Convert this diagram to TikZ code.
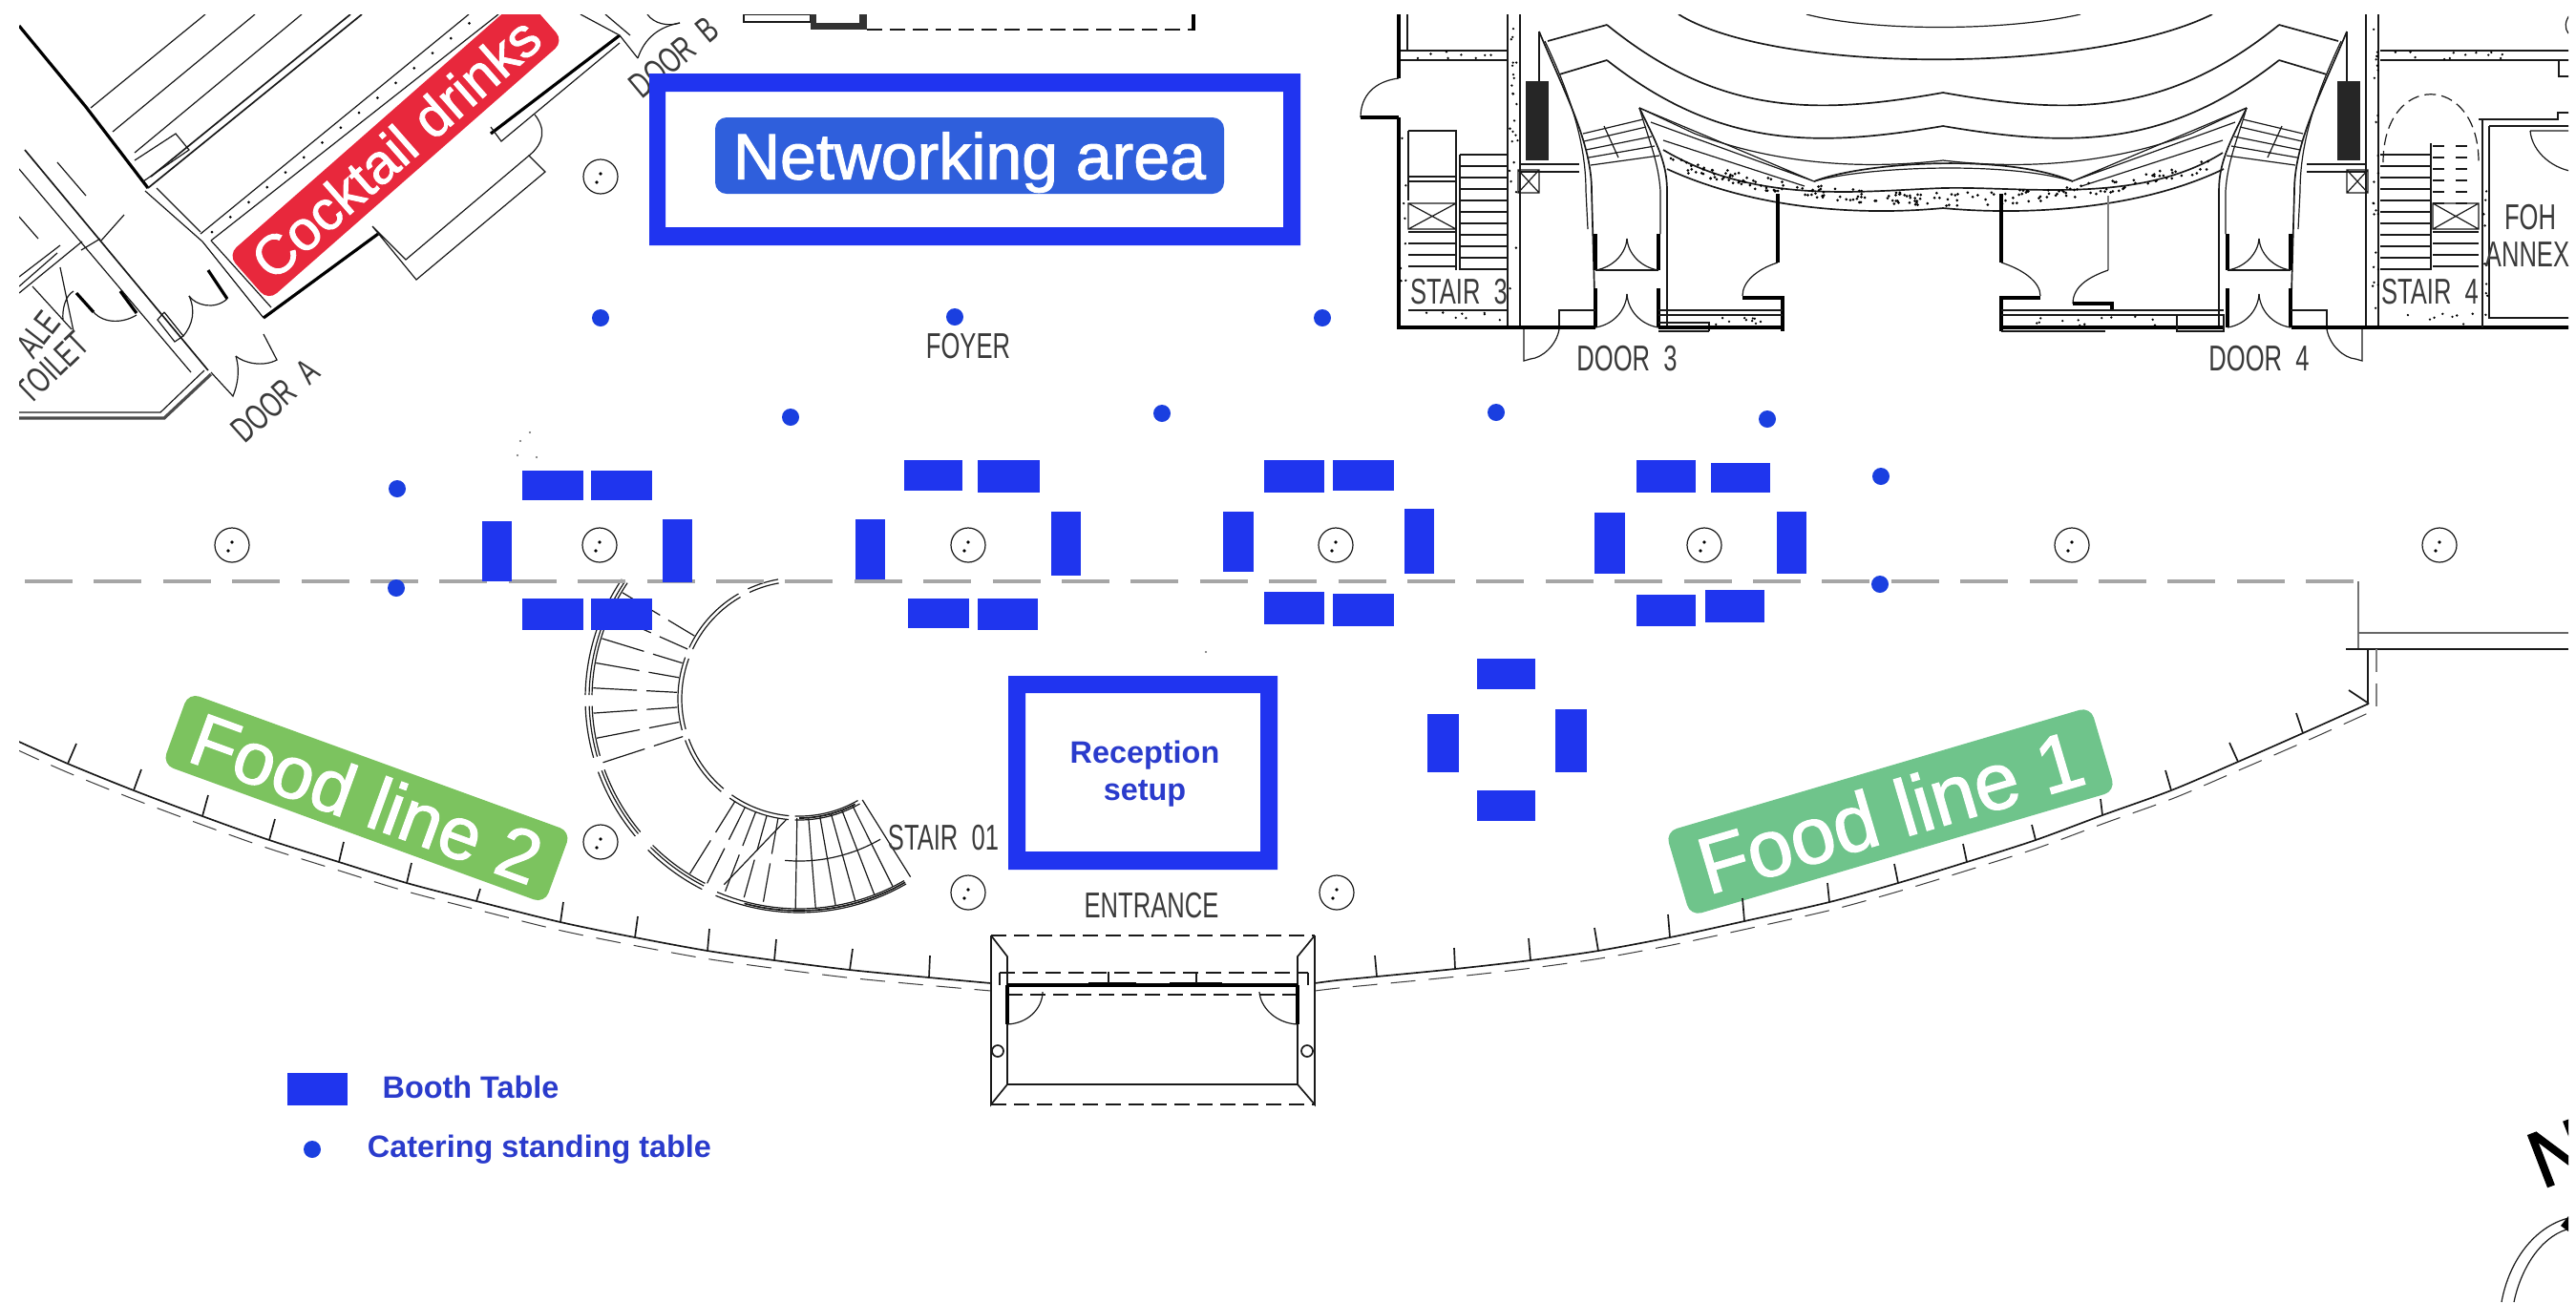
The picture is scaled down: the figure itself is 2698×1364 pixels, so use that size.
\documentclass[tikz,border=0pt]{standalone}
\usepackage{fontspec}
\setmainfont{Liberation Sans}
\newfontfamily\pillfont[FakeBold=1.6]{Liberation Sans}
\newfontfamily\legfont{Liberation Sans}
\newfontfamily\cadfont[FakeStretch=0.68]{Liberation Sans}
\definecolor{boothblue}{HTML}{1F35EE}
\definecolor{dotblue}{HTML}{1A3FE0}
\definecolor{framecol}{HTML}{2034F0}
\definecolor{netpill}{HTML}{2F5FDC}
\definecolor{redpill}{HTML}{E8283C}
\definecolor{greenA}{HTML}{7CC35F}
\definecolor{greenB}{HTML}{6FC48B}
\definecolor{legtext}{HTML}{2A3BCC}
\definecolor{cadtext}{HTML}{3A3A3A}
\definecolor{axisgray}{HTML}{A6A6A6}
\tikzset{
  planthin/.style={draw=black!90,line width=.3pt},
  planmid/.style={draw=black!90,line width=.42pt},
  planthick/.style={draw=black,line width=.8pt},
  plandash/.style={draw=black!75,line width=.26pt,dash pattern=on 6.5pt off 3.5pt},
  axisline/.style={draw=axisgray,line width=.9pt,dash pattern=on 12.5pt off 5.6pt},
  booth/.style={fill=boothblue},
  standing/.style={fill=dotblue},
  framefill/.style={fill=framecol,even odd rule},
  cad/.style={text=cadtext,inner sep=0pt,font=\cadfont\fontsize{9.4}{10}\selectfont},
  pill/.style={rounded corners=3pt,inner sep=0pt,text=white,align=center},
  legtxt/.style={text=legtext,inner sep=0pt,font=\legfont\bfseries\fontsize{8.1}{9.75}\selectfont,align=center}
}
\newcommand\pillar[2]{%
  \draw[planthin,fill=white] (#1,#2) circle (18);
  \fill[black] (#1,#2-3) circle (1.9);
  \fill[black] (#1-4,#2+6) circle (1.9);}
\newcommand\speck[5]{%
  \foreach \k in {1,...,#5}{%
    \pgfmathsetmacro\sx{#1+rnd*(#2-#1)}%
    \pgfmathsetmacro\sy{#3+rnd*(#4-#3)}%
    \fill[black] (\sx,\sy) circle (1.3);}}
\newcommand\sparc[4][planthin]{%
  \draw[#1] plot[domain=#3:#4,samples=24] ({837+#2*cos(\x)},{732+#2*sin(\x)});}
\newcommand\sptread[3]{%
  \draw[planthin] ({837+#1*cos(#3)},{732+#1*sin(#3)}) -- ({837+#2*cos(#3)},{732+#2*sin(#3)});}
\newcommand\audside{%
  \draw[planmid] (1579,15) -- (1579,343) (1592,15) -- (1592,343);
  \draw[planmid] (1612,33) .. controls (1640,100) and (1667,150) .. (1667,200) -- (1671,343);
  \draw[planthin] (1618,43) .. controls (1645,100) and (1661,150) .. (1661,200) -- (1663,240);
  \draw[planmid] (1717,113) .. controls (1735,150) and (1746,170) .. (1746,200) -- (1746,343);
  \draw[planthin] (1717,113) .. controls (1728,150) and (1737,170) .. (1739,200) -- (1739,245);
  \draw[planthin] (1612,33) -- (1612,85);
  \fill[black!85] (1598,85) rectangle (1622,168);
  \draw[planthin] (1592,172) -- (1654,172) (1592,180) -- (1654,180);
  \draw[planthin] (1590,178) rectangle (1612,202) (1590,178) -- (1612,202) (1590,202) -- (1612,178);
  \draw[planthin] (1658,140) -- (1721,125) (1659,148) -- (1724,133) (1661,157) -- (1730,143) (1664,165) -- (1733,153) (1666,173) -- (1738,163) (1680,132) -- (1695,165);
  \draw[planthick] (1671,245) -- (1671,283) (1671,302) -- (1671,343) (1737,245) -- (1737,283) (1737,302) -- (1737,343);
  \draw[planthin] (1671,283) -- (1737,283);
  \draw[planthin] (1671,283) .. controls (1690,280) and (1703,265) .. (1704,250);
  \draw[planthin] (1737,283) .. controls (1718,280) and (1705,265) .. (1704,250);
  \draw[planthin] (1671,343) .. controls (1690,340) and (1703,325) .. (1704,308);
  \draw[planthin] (1737,343) .. controls (1718,340) and (1705,325) .. (1704,308);
  \draw[planthin] (1596,345) -- (1596,378) -- (1603,376);
  \draw[planthin] (1633,345) .. controls (1630,362) and (1615,375) .. (1603,376);
  \draw[planthin] (1633,343) -- (1633,325) -- (1671,325);
  \draw[planmid] (1683,26) .. controls (1800,121) and (1900,121) .. (2035,97);
  \draw[planmid] (1621,43) -- (1683,26);
  \draw[planmid] (1683,63) .. controls (1800,155) and (1900,155) .. (2035,132);
  \draw[planmid] (1633,78) -- (1683,63);
  \draw[planthin] (1717,113) -- (1900,190) (1729,128) -- (1900,190) (1742,147) -- (1890,195);
  \draw[planthin] (1717,113) -- (1775,140) .. controls (1860,172) and (1950,178) .. (2035,168);
}
\begin{document}
\begin{tikzpicture}[x=.25pt,y=-.25pt]
\useasboundingbox (0,0) rectangle (2698,1364);
\fill[white] (0,0) rectangle (2698,1364);
\pgfmathsetseed{7}
\begin{scope}
\clip (20,15) rectangle (2690,1364);
% ---------- left building
\draw[planthick] (20,27) -- (90,112) -- (155,197);
\draw[planthin] (215,15) -- (95,113) (267,15) -- (118,138) (316,15) -- (141,160);
\draw[planmid] (379,15) -- (155,197) (367,15) -- (158,185);
\draw[planthin] (141,168) -- (184,140) -- (198,157) -- (150,190);
\draw[planthin] (152,200) -- (212,253) (164,197) -- (210,243);
\draw[planthin] (212,253) -- (276,333) (221,252) -- (284,322);
\draw[planthin] (210,245) -- (491,15) (221,252) -- (522,15);
\draw[planthick] (276,333) -- (396,245);
\draw[planthin] (390,237) -- (436,293) -- (571,180) -- (554,163) -- (425,272) -- (390,237);
\draw[planthick] (514,140) -- (649,37);
\draw[planthin] (514,133) -- (525,148) -- (649,45);
\draw[planthin] (560,120) .. controls (572,135) and (570,150) .. (554,163);
\draw[planthin] (608,15) -- (649,37) -- (668,61) (634,15) -- (660,37);
\draw[planthin] (668,61) .. controls (675,40) and (690,28) .. (712,24);
\draw[planthin] (678,15) .. controls (685,25) and (700,28) .. (712,24);
\draw[planmid] (26,157) -- (218,388);
\draw[planthin] (20,177) -- (200,390) (60,170) -- (90,205) (105,250) -- (85,262) (106,252) -- (130,225);
\draw[planthick,draw=black!70] (221,392) -- (172,438) -- (20,438);
\draw[planthin] (20,432) -- (168,432) -- (214,388);
\draw[planthin] (221,390) -- (244,415) .. controls (248,405) and (252,390) .. (247,373);
\draw[planthin] (276,350) -- (290,377) .. controls (275,385) and (255,380) .. (247,373);
\draw[planthick] (218,283) -- (238,313);
\draw[planthin] (238,313) .. controls (225,325) and (205,320) .. (198,310);
\draw[planthin] (172,327) -- (192,352) -- (183,358) -- (165,335) -- (172,327);
\draw[planthin] (192,352) .. controls (202,340) and (205,325) .. (198,310);
\draw[planthick] (80,307) -- (98,327) (126,305) -- (143,328);
\draw[planthin] (98,327) .. controls (110,340) and (130,338) .. (143,330);
\draw[planthin] (63,280) -- (77,347) (34,300) -- (75,345) (77,305) .. controls (68,310) and (65,325) .. (66,335);
\draw[planthin] (20,290) -- (63,257) (20,307) -- (86,253) (20,227) -- (40,250) (20,300) -- (60,265);
\foreach \tt in {0,.07,...,1}{\fill[black] ({222+\tt*275},{243-\tt*223}) circle (1.5);}
% ---------- top fragment
\draw[planmid] (779,15) rectangle (849,23);
\fill[black!80] (849,15) rectangle (908,31);
\fill[white] (855,15) rectangle (900,24);
\draw[planmid,dash pattern=on 4pt off 2pt] (908,31) -- (1248,31);
\draw[planthick] (1250,15) -- (1250,32);
% ---------- auditorium
\audside
\begin{scope}[xshift=1017.5pt,xscale=-1]
\audside
\end{scope}
\draw[planthin] (1892,15) .. controls (1960,33) and (2100,33) .. (2179,15);
\draw[planmid] (1758,15) .. controls (1860,78) and (2190,78) .. (2317,15);
\draw[planmid] (1900,190) .. controls (1950,170) and (2100,160) .. (2171,190);
\draw[planthin] (1900,190) .. controls (1950,175) and (2100,168) .. (2171,190);
\draw[planmid] (1742,157) .. controls (1840,215) and (1950,200) .. (2035,197) .. controls (2120,195) and (2240,215) .. (2328,160);
\draw[planmid] (1746,177) .. controls (1840,220) and (1950,226) .. (2035,218) .. controls (2120,226) and (2240,220) .. (2329,177);
\foreach \k in {1,...,210}{%
  \pgfmathsetmacro\ux{rnd*2-1}%
  \pgfmathsetmacro\uy{rnd*14}%
  \fill[black] ({2035+285*\ux},{202-38*\ux*\ux+\uy}) circle (1.5);}
% interior walls left
\draw[planthick] (1862,203) -- (1862,275);
\draw[planthin] (1862,275) .. controls (1840,282) and (1825,295) .. (1825,310);
\draw[planthick] (1825,312) -- (1867,312) -- (1867,347);
\draw[planthin] (1737,325) -- (1867,325) (1737,330) -- (1867,330) (1737,347) -- (1790,347) (1790,347) -- (1790,338) -- (1737,338);
\draw[planthick] (1737,343) -- (1867,343);
\speck{1790}{1865}{332}{341}{10}
% interior walls right
\draw[planthick] (2096,203) -- (2096,275);
\draw[planthin] (2096,275) .. controls (2118,282) and (2137,295) .. (2137,310);
\draw[planthick] (2137,312) -- (2096,312) -- (2096,347);
\draw[draw=black!50,line width=.7pt] (2208,205) -- (2208,283);
\draw[planthin] (2208,283) .. controls (2188,290) and (2171,300) .. (2171,318);
\draw[planthick] (2171,318) -- (2212,318) -- (2212,325);
\draw[planthin] (2096,325) -- (2329,325) (2096,330) -- (2329,330) (2096,347) -- (2205,347);
\draw[planthick] (2096,343) -- (2329,343);
\draw[planthin] (2280,330) rectangle (2329,347);
\speck{2110}{2270}{331}{341}{12}
% left block
\draw[planthick] (1465,15) -- (1465,82) (1465,123) -- (1465,343) -- (1671,343);
\draw[planthin] (1474,15) -- (1474,53);
\draw[planmid] (1467,53) -- (1579,53) (1467,63) -- (1579,63);
\speck{1470}{1575}{54}{62}{8}
\draw[planthin] (1465,82) .. controls (1440,85) and (1425,100) .. (1425,123);
\draw[planthick] (1425,123) -- (1465,123);
\draw[planthin] (1475,137) -- (1525,137) -- (1525,283);
\draw[planthin] (1529,162) -- (1529,283);
\draw[planthin] (1475,325) -- (1579,325);
\foreach \yy in {162,174,...,282}{\draw[planthin] (1529,\yy) -- (1579,\yy);}
\foreach \yy in {243,255,...,282}{\draw[planthin] (1475,\yy) -- (1525,\yy);}
\draw[planthin] (1475,213) rectangle (1525,240) (1475,213) -- (1525,240) (1475,240) -- (1525,213);
\draw[planthin] (1475,137) -- (1475,210);
\draw[planmid] (1475,185) -- (1525,185) (1475,190) -- (1525,190);
\speck{1467}{1473}{130}{340}{8}
\speck{1480}{1575}{327}{340}{8}
\speck{1581}{1590}{20}{340}{24}
\speck{2485}{2491}{20}{340}{24}
% right block
\draw[planthick] (2400,343) -- (2698,343);
\draw[planmid] (2493,53) -- (2698,53) (2493,63) -- (2698,63);
\speck{2498}{2690}{54}{62}{12}
\draw[planthin,dash pattern=on 3pt off 1.5pt] (2496,170) .. controls (2496,75) and (2596,75) .. (2596,170);
\foreach \yy in {162,174,...,282}{\draw[planthin] (2493,\yy) -- (2546,\yy);}
\foreach \yy in {153,165,...,213}{\draw[planthin,dashed] (2548,\yy) -- (2596,\yy);}
\foreach \yy in {243,255,...,282}{\draw[planthin] (2548,\yy) -- (2596,\yy);}
\draw[planthin] (2548,213) rectangle (2596,240) (2548,213) -- (2596,240) (2548,240) -- (2596,213);
\draw[planthin] (2546,150) -- (2546,283);
\draw[planmid] (2600,125) -- (2600,343);
\draw[planmid] (2596,125) -- (2679,125) -- (2679,118) -- (2698,118) (2607,132) -- (2698,132) (2607,132) -- (2607,333) -- (2698,333);
\speck{2601}{2606}{140}{330}{10}
\speck{2500}{2596}{327}{340}{8}
\draw[planthin] (2680,63) -- (2680,80) -- (2698,80);
\draw[planthin] (2650,137) -- (2698,137) (2650,137) .. controls (2652,160) and (2675,178) .. (2698,180);
\draw[planthin] (2692,15) .. controls (2686,22) and (2686,30) .. (2690,35);
% ---------- spiral stair
\sparc{123}{60}{92} \sparc{127}{60}{92}
\sparc[planmid]{125}{62}{90}
\foreach \aa/\ab in {95/125,130/160,165/200,205/240,245/260}{%
  \sparc{123}{\aa}{\ab} \sparc{127}{\aa}{\ab}}
\sparc{220}{60}{113} \sparc{224}{60}{113} \sparc[planmid]{222}{60}{105}
\foreach \aa/\ab in {117/135,140/160,164/178,181/205,207/214}{%
  \sparc{220}{\aa}{\ab} \sparc{224}{\aa}{\ab} \sparc{217}{\aa}{\ab}}
\foreach \an in {58,63.5,...,95}{\sptread{125}{220}{\an}}
\foreach \an in {100,105.5,...,127}{\sptread{127}{165}{\an} \sptread{175}{216}{\an}}
\foreach \an in {162,169,...,213}{\sptread{128}{160}{\an} \sptread{170}{216}{\an}}
\sparc{170}{60}{95}
\draw[planthin] ({837+210*cos(112)},{732+210*sin(112)}) -- ({837+127*cos(96)},{732+127*sin(96)});
% ---------- pillars
\foreach \px/\py in {629/185,243/571,628/571,1014/571,1399/571,1785/571,2170/571,2555/571,629/882,1014/935,1400/935}{\pillar{\px}{\py}}
% ---------- axis
\draw[axisline] (26,609) -- (2470,609);
\draw[draw=axisgray!70!black,line width=.6pt] (2470,609) -- (2470,679);
\draw[draw=black!60,line width=.4pt] (2470,663) -- (2690,663);
\draw[planmid] (2457,680) -- (2690,680);
\draw[planmid] (2480,680) -- (2480,738);
\draw[draw=black!50,line width=.35pt,dash pattern=on 6pt off 3pt] (2489,680) -- (2489,743);
% ---------- food-line pills sit under the facade ticks
\node[pill,fill=greenA,rotate=-20,minimum width=106.5pt,minimum height=20pt,font=\pillfont\fontsize{19.4}{19.4}\selectfont] (foodtwo) at (384,836) {Food line 2};
\node[pill,fill=greenB,rotate=16.4,minimum width=116pt,minimum height=23pt,font=\pillfont\fontsize{21}{21}\selectfont] (foodone) at (1980,850) {Food line 1};
% ---------- facade
\draw[planmid] plot[smooth] coordinates {(20,777) (71,800) (140,828) (212,855) (282,880) (355,903) (426,925) (499,944) (587,966) (665,982) (741,996) (811,1006) (890,1016) (973,1024) (1038,1030)};
\draw[plandash] plot[smooth] coordinates {(17,785) (68,808) (137,836) (209,863) (279,888) (352,911) (423,933) (496,952) (584,974) (662,990) (738,1004) (808,1014) (887,1024) (970,1032) (1038,1038)};
\draw[planmid] plot[smooth] coordinates {(1377,1030) (1400,1027) (1442,1023) (1524,1015) (1603,1006) (1674,996) (1749,982) (1827,965) (1916,945) (1988,925) (2060,903) (2132,880) (2202,854) (2274,828) (2344,798) (2412,768) (2481,737)};
\draw[plandash] plot[smooth] coordinates {(1377,1038) (1402,1035) (1444,1031) (1526,1023) (1605,1014) (1676,1004) (1751,990) (1830,973) (1919,953) (1991,933) (2063,911) (2135,888) (2205,862) (2277,836) (2347,806) (2416,776) (2489,743)};
\foreach \ba/\bb/\ta/\tb in {71/800/80/779,140/828/148/806,212/855/218/833,282/880/288/858,355/903/360/882,426/925/431/904,499/944/503/931,587/966/590/945,665/982/668/960,741/996/743/973,811/1006/813/984,890/1016/893/994,973/1024/974/1001,1442/1023/1440/1001,1524/1015/1523/993,1603/1006/1601/983,1674/996/1670/972,1749/982/1747/958,1827/965/1825/941,1916/945/1914/925,1988/925/1984/905,2060/903/2056/884,2132/880/2128/864,2202/854/2200/837,2274/828/2268/807,2344/798/2335/778,2412/768/2405/747,2481/737/2460/723}{%
  \draw[planmid] (\ba,\bb) -- (\ta,\tb);}
% ---------- entrance
\draw[planmid,dash pattern=on 4pt off 2pt] (1038,980) -- (1377,980) (1038,1157) -- (1377,1157) (1047,1019) -- (1370,1019) (1055,1042) -- (1359,1042);
\draw[planmid] (1038,980) -- (1038,1157) -- (1055,1136) -- (1055,1002) -- (1038,980);
\draw[planmid] (1377,980) -- (1377,1157) -- (1359,1136) -- (1359,1002) -- (1377,980);
\draw[planthin] (1055,1136) -- (1359,1136) (1047,1019) -- (1047,1032) (1370,1019) -- (1370,1032);
\draw[planthick] (1055,1032) -- (1359,1032) (1055,1032) -- (1055,1073) (1359,1032) -- (1359,1073);
\draw[draw=black,line width=1.1pt] (1140,1031) -- (1190,1031) (1225,1031) -- (1280,1031);
\draw[planmid] (1161,1018) -- (1161,1030) (1253,1018) -- (1253,1030);
\draw[planthin] (1055,1073) .. controls (1078,1072) and (1092,1055) .. (1092,1039);
\draw[planthin] (1359,1073) .. controls (1336,1072) and (1320,1055) .. (1319,1039);
\draw[planmid] (1045,1101) circle (6) (1369,1101) circle (6);
% ---------- compass
\draw[planthin] (2620,1364) .. controls (2628,1320) and (2655,1285) .. (2690,1276);
\draw[planthin] (2633,1364) .. controls (2640,1330) and (2660,1297) .. (2688,1288);
\fill[black] (2682,1284) -- (2690,1274) -- (2690,1290) -- cycle;
\node[inner sep=0pt,rotate=21,font=\pillfont\fontsize{21}{21}\selectfont] (north) at (2680,1208) {N};
% ---------- red pill
\node[pill,fill=redpill,rotate=41.3,minimum width=103pt,minimum height=16pt,font=\pillfont\fontsize{14.6}{14.6}\selectfont] (cocktail) at (414.5,155) {Cocktail drinks};
\end{scope}
% ---------- CAD labels
\node[cad,rotate=42] (doora) at (288,420) {DOOR\ \ A};
\node[cad,rotate=40] (doorb) at (706,60) {DOOR\ \ B};
\begin{scope}
\clip (20,15) rectangle (2690,1364);
\node[cad,rotate=44] (toilet) at (55,385) {TOILET};
\node[cad,rotate=52] (male) at (40,350) {ALE};
\end{scope}
\node[cad] (foyer) at (1014,363) {FOYER};
\node[cad] (stairthree) at (1528,306) {STAIR\ \ 3};
\node[cad] (stairfour) at (2545,306) {STAIR\ \ 4};
\node[cad] (doorthree) at (1704,376) {DOOR\ \ 3};
\node[cad] (doorfour) at (2366,376) {DOOR\ \ 4};
\node[cad] (foh) at (2650,228) {FOH};
\node[cad] (annex) at (2647,267) {ANNEX};
\node[cad] (stairone) at (988,878) {STAIR\ \ 01};
\node[cad] (entrance) at (1206,949) {ENTRANCE};
% ---------- specks
\foreach \sa/\sb in {555/453,545/462,542/477,562/479,1263/683}{\fill[black!60] (\sa,\sb) circle (1.2);}
% ---------- standing tables
\foreach \dx/\dy in {629/333,1000/332,1385/333,828/437,1217/433,1567/432,1851/439,416/512,1970/499,415/616,1969/612,327/1204}{\path[standing] (\dx,\dy) circle (9);}
% ---------- booths
\foreach \xa/\ya/\xb/\yb in {
 547/493/611/524,619/493/683/524,505/546/536/609,694/544/725/610,547/627/611/660,619/627/683/660,
 947/482/1008/514,1024/482/1089/516,896/544/927/607,1101/536/1132/603,951/627/1015/658,1024/627/1087/660,
 1324/482/1387/516,1396/482/1460/514,1281/536/1313/599,1471/533/1502/601,1324/620/1387/654,1396/622/1460/656,
 1714/482/1776/516,1792/485/1854/516,1670/537/1702/601,1861/536/1892/601,1714/623/1776/656,1786/618/1848/652,
 1547/690/1608/722,1547/828/1608/860,1495/748/1528/809,1629/743/1662/809,
 301/1124/364/1158}{\path[booth] (\xa,\ya) rectangle (\xb,\yb);}
% ---------- frames
\path[framefill] (680,77) rectangle (1362,257) (697,96) rectangle (1344,238);
\path[framefill] (1056,708) rectangle (1338,911) (1074,726) rectangle (1320,892);
\node[pill,fill=netpill,text depth=0pt,minimum width=133.25pt,minimum height=20pt,font=\pillfont\fontsize{17}{17}\selectfont] (network) at (1015.5,163) {Networking area};
\node[legtxt] (reception) at (1199,811) {Reception\\setup};
\node[legtxt] (boothlabel) at (493,1139) {Booth Table};
\node[legtxt] (cateringlabel) at (565,1204) {Catering standing table};
\end{tikzpicture}
\end{document}
